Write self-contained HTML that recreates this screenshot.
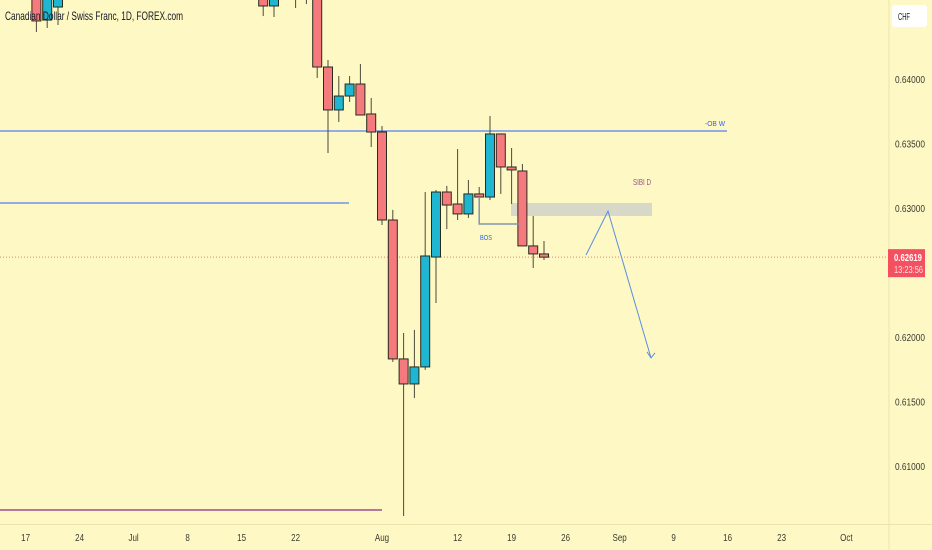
<!DOCTYPE html>
<html><head><meta charset="utf-8">
<style>
html,body{margin:0;padding:0;background:#fdf8c4;}
svg{display:block;font-family:"Liberation Sans",sans-serif;}
</style></head>
<body>
<svg id="chart" width="932" height="550" viewBox="0 0 932 550">
  <rect x="0" y="0" width="932" height="550" fill="#fdf8c4"/>
  <g id="annotations-back"></g>
  <g id="candles"></g>
  <g id="annotations-front"></g>
  <line x1="889" y1="0" x2="889" y2="550" stroke="#ebe3ab" stroke-width="1"/>
  <line x1="0" y1="524.5" x2="932" y2="524.5" stroke="#ebe3ab" stroke-width="1"/>
  <g id="price-axis"></g>
  <g id="time-axis"></g>
  <text x="5" y="20" font-size="12" fill="#131722" textLength="178" lengthAdjust="spacingAndGlyphs">Canadian Dollar / Swiss Franc, 1D, FOREX.com</text>
  <rect x="892" y="5" width="35" height="22" rx="3" fill="#ffffff"/>
  <text x="898" y="20" font-size="10" fill="#131722" textLength="12" lengthAdjust="spacingAndGlyphs">CHF</text>
</svg>
<script>
// ---- data ----
const dayIndex = [-32,-31,-30,-11,-10,-8,-7,-6,-5,-4,-3,-2,-1,0,1,2,3,4,5,6,7,8,9,10,11,12,13,14,15];
const opens  = [0.64690,0.64457,0.64558,0.64651,0.64566,0.64806,0.64767,0.64767,0.64093,0.63760,0.63868,0.63961,0.63729,0.63589,0.62907,0.61830,0.61636,0.61768,0.62620,0.63124,0.63031,0.62954,0.63109,0.63085,0.63574,0.63318,0.63287,0.62706,0.62644];
const highs  = [0.64767,0.64767,0.64767,0.64767,0.64767,0.64845,0.64845,0.64845,0.64147,0.64023,0.64023,0.64116,0.63853,0.63636,0.62985,0.62031,0.62055,0.63124,0.63140,0.63171,0.63457,0.63217,0.63163,0.63713,0.63574,0.63465,0.63341,0.62938,0.62744];
const lows   = [0.64364,0.64396,0.64419,0.64488,0.64481,0.64550,0.64581,0.64008,0.63426,0.63667,0.63822,0.63721,0.63473,0.62868,0.61807,0.60612,0.61527,0.61745,0.62264,0.62837,0.62907,0.62923,0.63085,0.63062,0.63109,0.63031,0.62706,0.62535,0.62597];
const closes = [0.64450,0.64651,0.64651,0.64566,0.64651,0.64729,0.64690,0.64093,0.63760,0.63868,0.63961,0.63721,0.63589,0.62907,0.61830,0.61636,0.61768,0.62628,0.63124,0.63023,0.62954,0.63109,0.63085,0.63574,0.63318,0.63295,0.62706,0.62644,0.62619];
const priceTicks = [0.640,0.635,0.630,0.620,0.615,0.610];
const priceTickLabels = ["0.64000","0.63500","0.63000","0.62000","0.61500","0.61000"];
const dateTickIdx = [-33,-28,-23,-18,-13,-8,0,7,12,17,22,27,32,37,43];
const dateTickLabels = ["17","24","Jul","8","15","22","Aug","12","19","26","Sep","9","16","23","Oct"];
const lastPrice = 0.62619;

// ---- axes ----
const yOf = p => 79 + (0.64 - p) * 12900;
const xOf = i => 382 + i * 10.8;
const NS = "http://www.w3.org/2000/svg";
function mk(tag, attrs, parent){const e=document.createElementNS(NS,tag);for(const k in attrs)e.setAttribute(k,attrs[k]);parent.appendChild(e);return e;}

const back = document.getElementById('annotations-back');
const front = document.getElementById('annotations-front');
const cg = document.getElementById('candles');

let l;
l = mk('line',{x1:0,x2:727,y1:yOf(0.63597),y2:yOf(0.63597),stroke:'#2962ff','stroke-width':1},back);


l = mk('text',{x:705,y:yOf(0.63597)-5,'font-size':7,fill:'#2962ff',textLength:20,lengthAdjust:'spacingAndGlyphs'},back); l.textContent='-OB W';


l = mk('line',{x1:0,x2:349,y1:yOf(0.63039),y2:yOf(0.63039),stroke:'#2962ff','stroke-width':1},back);


l = mk('line',{x1:0,x2:382,y1:yOf(0.60659),y2:yOf(0.60659),stroke:'#9c4f8f','stroke-width':1.5},back);


l = mk('rect',{x:511,y:yOf(0.63039),width:141,height:13,fill:'#d8d8c8'},back);


l = mk('text',{x:633,y:yOf(0.63180),'font-size':8,fill:'#9c4f8f',textLength:18,lengthAdjust:'spacingAndGlyphs'},back); l.textContent='SIBI D';


l = mk('line',{x1:0,x2:889,y1:yOf(lastPrice),y2:yOf(lastPrice),stroke:'#e8806a','stroke-width':1,'stroke-dasharray':'1,2'},back);



for(let k=0;k<dayIndex.length;k++){
  const x=xOf(dayIndex[k]);
  const up=closes[k]>=opens[k];
  const g=mk('g',{},cg);
  
  
  mk('line',{x1:x,x2:x,y1:yOf(highs[k]),y2:yOf(lows[k]),stroke:'#4a4a3a','stroke-width':1},g);
  const top=yOf(Math.max(opens[k],closes[k])), bot=yOf(Math.min(opens[k],closes[k]));
  mk('rect',{x:x-4.5,y:top,width:9,height:Math.max(1.5,bot-top),fill:up?'#1fb6d1':'#f57a7d',stroke:'#2a2a1e','stroke-width':1},g);
}

l = mk('polyline',{points:`${xOf(9)},${yOf(0.63085)} ${xOf(9)},${yOf(0.62876)} ${xOf(13)-3},${yOf(0.62876)}`,fill:'none',stroke:'#7f96ab','stroke-width':1.5},front);


l = mk('text',{x:480,y:yOf(0.62752),'font-size':7.5,fill:'#2962ff',textLength:12,lengthAdjust:'spacingAndGlyphs'},front); l.textContent='BOS';


l = mk('polyline',{points:`586,${yOf(0.62635)} 608,${yOf(0.62976)} 651,${yOf(0.61838)}`,fill:'none',stroke:'#5b8de0','stroke-width':1},front);


l = mk('polyline',{points:`647,${yOf(0.61838)-6} 651,${yOf(0.61838)} 655,${yOf(0.61838)-5}`,fill:'none',stroke:'#5b8de0','stroke-width':1},front);



const pa=document.getElementById('price-axis');
priceTicks.forEach((p,i)=>{
  const t=mk('text',{x:895,y:yOf(p)+4,'font-size':10,fill:'#3a3a30',textLength:30,lengthAdjust:'spacingAndGlyphs'},pa);
  t.textContent=priceTickLabels[i];
  
  
});
l = mk('rect',{x:888,y:yOf(lastPrice)-8,width:37,height:28,fill:'#f4505f'},pa);


l = mk('text',{x:894,y:yOf(lastPrice)+4,'font-size':10,fill:'#ffffff','font-weight':'bold',textLength:28,lengthAdjust:'spacingAndGlyphs'},pa); l.textContent='0.62619';


l = mk('text',{x:894,y:yOf(lastPrice)+16,'font-size':10,fill:'#ffe0e3',textLength:29,lengthAdjust:'spacingAndGlyphs'},pa); l.textContent='13:23:56';



const ta=document.getElementById('time-axis');
dateTickIdx.forEach((d,i)=>{
  const t=mk('text',{x:xOf(d),y:541,'font-size':10,fill:'#3a3a30','text-anchor':'middle',transform:`translate(${xOf(d)*0.2},0) scale(0.8,1)`},ta);
  t.textContent=dateTickLabels[i];
  
  
});
</script>
</body></html>
